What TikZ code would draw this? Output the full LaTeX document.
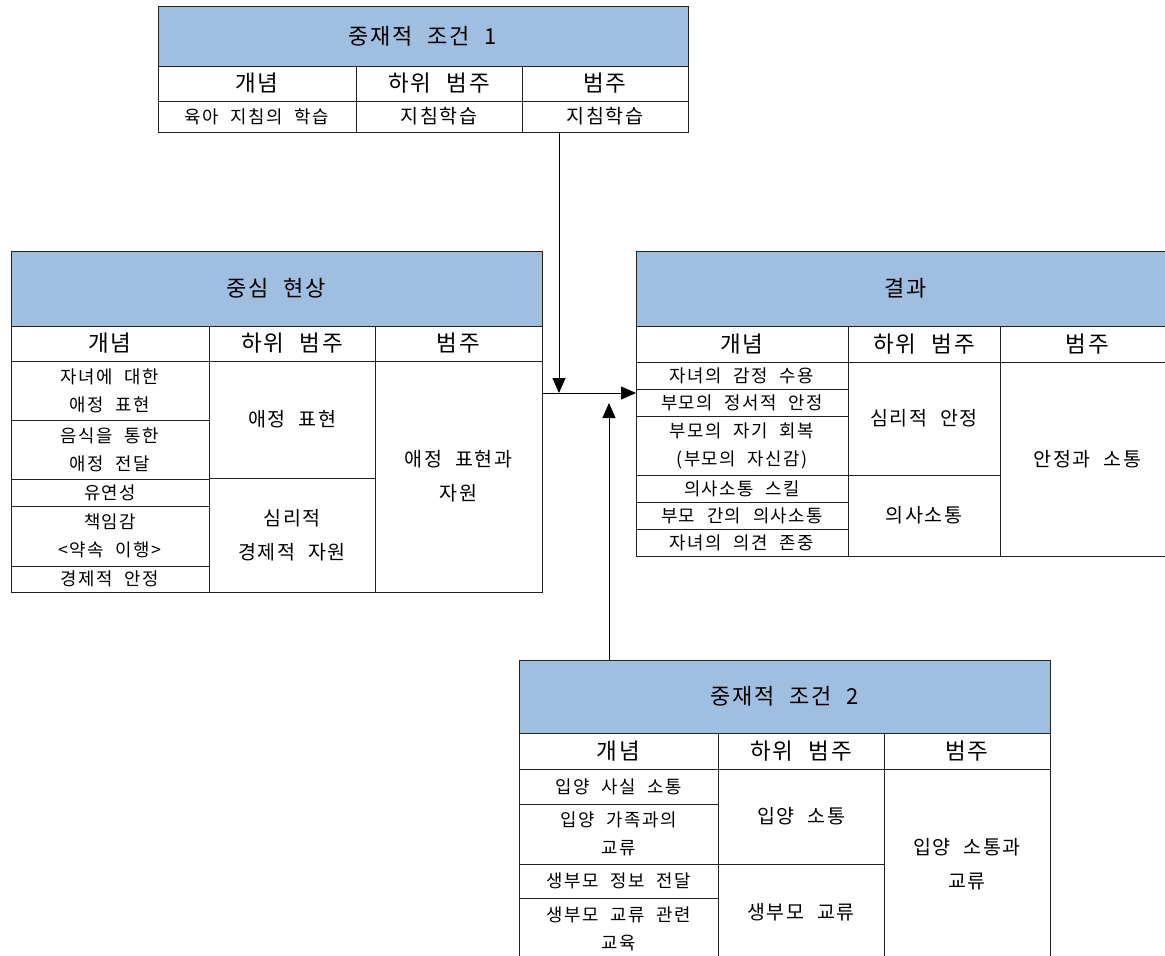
\documentclass[tikz,border=0pt]{standalone}
\usepackage{fontspec}
\setmainfont{Noto Sans CJK KR}[WordSpace=2.2,LetterSpace=8]
\usetikzlibrary{arrows.meta}
\definecolor{hdrblue}{HTML}{A0BEE0}
\definecolor{lncol}{HTML}{222222}
\tikzset{
  cellst/.style={draw=lncol, line width=0.9pt, inner sep=0pt, outer sep=0pt, align=center, fill=white},
  hdr/.style={fill=hdrblue, font=\fontsize{22}{26}\selectfont},
  colhd/.style={font=\fontsize{22.5}{26}\selectfont},
  con/.style={font=\fontsize{17.8}{28}\selectfont},
  sub/.style={font=\fontsize{19.5}{34}\selectfont},
  arr/.style={draw=black, line width=1pt, -{Triangle[length=15pt,width=13pt]}},
}
\newcommand\cellbox[7][]{\node[cellst,#1,minimum width={(#5-#3)*1pt},minimum height={(#6-#4)*1pt}] (#2) at ({(#3+#5)/2},{(#4+#6)/2}) {#7};}
\begin{document}
\begin{tikzpicture}[x=1pt,y=-1pt]
\useasboundingbox (0,0) rectangle (1165,956);
\fill[white] (0,0) rectangle (1165,956);
\clip (0,0) rectangle (1165,956);

% ---- Table 1: 중재적 조건 1
\cellbox[hdr]{t1h}{158}{6}{688}{66}{중재적 조건 1}
\cellbox[colhd]{t1c1}{158}{66}{356}{101}{개념}
\cellbox[colhd]{t1c2}{356}{66}{522}{101}{하위 범주}
\cellbox[colhd]{t1c3}{522}{66}{688}{101}{범주}
\cellbox[con]{t1d1}{158}{101}{356}{132}{육아 지침의 학습}
\cellbox[sub]{t1d2}{356}{101}{522}{132}{지침학습}
\cellbox[sub]{t1d3}{522}{101}{688}{132}{지침학습}

% ---- Table 2: 중심 현상
\cellbox[hdr]{t2h}{11}{251}{542}{326}{중심 현상}
\cellbox[colhd]{t2c1}{11}{326}{209}{361}{개념}
\cellbox[colhd]{t2c2}{209}{326}{375}{361}{하위 범주}
\cellbox[colhd]{t2c3}{375}{326}{542}{361}{범주}
\cellbox[con]{t2r1}{11}{361}{209}{420}{자녀에 대한\\애정 표현}
\cellbox[con]{t2r2}{11}{420}{209}{479}{음식을 통한\\애정 전달}
\cellbox[con]{t2r3}{11}{479}{209}{506}{유연성}
\cellbox[con]{t2r4}{11}{506}{209}{566}{책임감\\<약속 이행>}
\cellbox[con]{t2r5}{11}{566}{209}{592}{경제적 안정}
\cellbox[sub]{t2s1}{209}{361}{375}{478}{애정 표현}
\cellbox[sub]{t2s2}{209}{478}{375}{592}{심리적\\경제적 자원}
\cellbox[sub]{t2cat}{375}{361}{542}{592}{애정 표현과\\자원}

% ---- Table 3: 결과
\cellbox[hdr]{t3h}{636}{251}{1175}{326}{결과}
\cellbox[colhd]{t3c1}{636}{326}{848}{362}{개념}
\cellbox[colhd]{t3c2}{848}{326}{1000}{362}{하위 범주}
\cellbox[colhd]{t3c3}{1000}{326}{1175}{362}{범주}
\cellbox[con]{t3r1}{636}{362}{848}{389}{자녀의 감정 수용}
\cellbox[con]{t3r2}{636}{389}{848}{416}{부모의 정서적 안정}
\cellbox[con]{t3r3}{636}{416}{848}{475}{부모의 자기 회복\\(부모의 자신감)}
\cellbox[con]{t3r4}{636}{475}{848}{502}{의사소통 스킬}
\cellbox[con]{t3r5}{636}{502}{848}{529}{부모 간의 의사소통}
\cellbox[con]{t3r6}{636}{529}{848}{556}{자녀의 의견 존중}
\cellbox[sub]{t3s1}{848}{362}{1000}{475}{심리적 안정}
\cellbox[sub]{t3s2}{848}{475}{1000}{556}{의사소통}
\cellbox[sub]{t3cat}{1000}{362}{1175}{556}{안정과 소통}

% ---- Table 4: 중재적 조건 2
\cellbox[hdr]{t4h}{519}{660}{1050}{733}{중재적 조건 2}
\cellbox[colhd]{t4c1}{519}{733}{718}{769}{개념}
\cellbox[colhd]{t4c2}{718}{733}{884}{769}{하위 범주}
\cellbox[colhd]{t4c3}{884}{733}{1050}{769}{범주}
\cellbox[con]{t4r1}{519}{769}{718}{804}{입양 사실 소통}
\cellbox[con]{t4r2}{519}{804}{718}{864}{입양 가족과의\\교류}
\cellbox[con]{t4r3}{519}{864}{718}{898}{생부모 정보 전달}
\cellbox[con]{t4r4}{519}{898}{718}{960}{생부모 교류 관련\\교육}
\cellbox[sub]{t4s1}{718}{769}{884}{864}{입양 소통}
\cellbox[sub]{t4s2}{718}{864}{884}{960}{생부모 교류}
\cellbox[sub]{t4cat}{884}{769}{1050}{960}{입양 소통과\\교류}

% ---- connectors
\coordinate (j) at (559,393);
\coordinate (k) at (609,403);
\draw[arr] (t1d3.south -| j) -- (j);
\draw[arr] (t2cat.east |- j) -- (t3r2.west |- j);
\draw[arr] (t4h.north -| k) -- (k);
\end{tikzpicture}
\end{document}
